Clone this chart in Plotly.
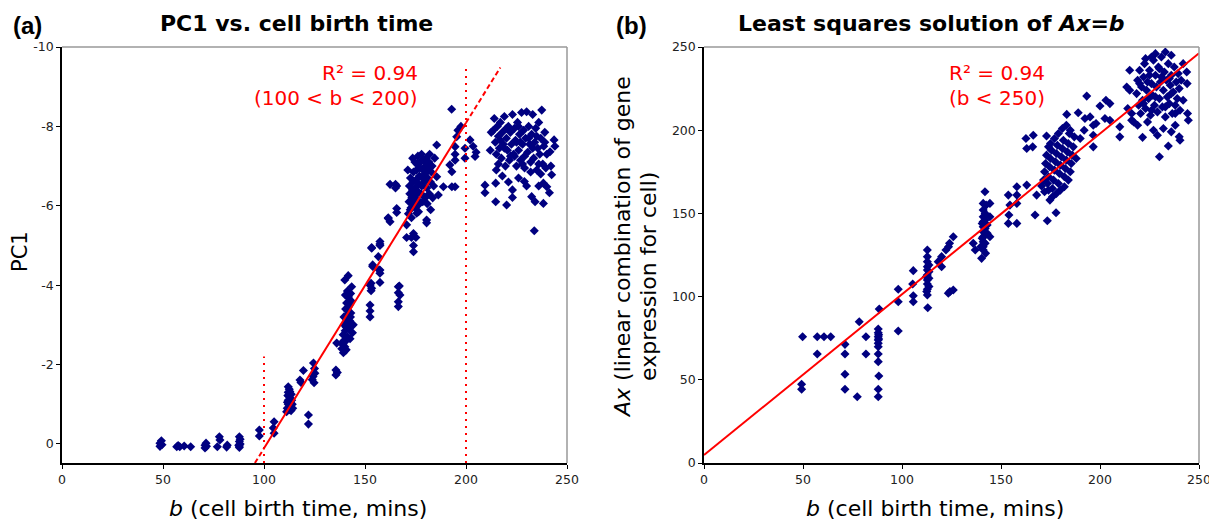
import plotly.graph_objects as go

# ---------------- Panel (a): PC1 vs cell birth time ----------------
a_birth = [
    48.5, 48.5, 49.2, 49.5, 56.8, 57.5, 58.3, 60.5, 63.7,
    70.8, 70.8, 71.3, 71.5, 76.9, 77.9, 78.2, 81.5, 81.8,
    87.8, 87.8, 87.8, 87.8, 88.2, 88.2, 87.5,
    97.7, 97.7, 105, 105, 104.6,
    111.2, 111.5, 112, 112, 112.3, 112, 112, 112.5, 113, 113, 113.2, 113.7, 113.5, 112.8, 111.8, 114.2, 114, 112.6, 113.4, 111.6,
    117.8, 118.3, 119.5, 122, 122, 124.5, 124.8, 125.2, 124.3, 125, 123.9,
    135.6, 135.6, 136, 136.3,
    138.5, 139, 139.5, 139.2, 140, 140.2, 140.5, 140.8, 141, 141.2, 141.5, 141.7, 141.4, 140.6, 142, 142.3, 142.5, 142.8, 142.2, 143,
    143.2, 139.8, 139.6, 140.4, 140.9, 141.8, 140.3, 141.3, 139.3, 140, 141.7, 143.4, 142.9, 143.8, 144.2, 138.8, 140.7, 142.6,
    152.5, 152.5, 152.5, 153, 153, 152.5, 153.3, 153.3, 153.8, 153.8, 153.3, 156.6, 157.4, 157.4, 157.4, 157.4, 157.4, 157.4, 157,
    161.5, 162.4, 161.5, 165.7, 165.7, 162.4, 165.1, 165.1, 165.7,
    166.5, 166.5, 166.5, 166.5, 167.3, 167,
    170.6, 170.6, 173, 175.2, 174, 174, 174, 175.6, 180.5, 180.5,
    171.5, 171.8, 172.2, 172, 172.5, 172.8, 173.2, 173.5, 173.8, 174, 174.3, 174.6, 174.9, 175.2, 175.5, 175.8, 176, 176.3, 176.6,
    176.9, 177.2, 177.5, 177.8, 178.1, 178.4, 178.7, 179, 179.3, 179.6, 180, 180.3, 180.6, 181, 181.3, 181.6, 182, 182.4, 182.8,
    183.2, 183.5, 173, 172.4, 175, 176.5, 178.6, 177, 174.7, 176.2, 178, 179.8, 180.8, 181.8, 184, 185.5, 184.5, 185.5, 186.3,
    182.5, 171.2, 173.6,
    188.8, 192, 193, 193, 194.6, 194.6, 194.6, 194.6, 195.4, 192.9, 199.5, 199.5, 202, 203.5, 205, 204.5, 196, 197.5,
    213.5, 214, 214.5, 215, 215.5, 216, 216.5, 217, 217.5, 218, 218.5, 219, 219.5, 220, 220.5, 221, 221.5, 222, 222.5, 223,
    223.5, 224, 224.5, 225, 225.5, 226, 226.5, 227, 227.5, 228, 228.5, 229, 229.5, 230, 230.5, 231, 231.5, 232, 232.5, 233,
    233.5, 234, 234.5, 235, 235.5, 236, 236.5, 237, 237.5, 238, 238.5, 239, 239.5, 240, 241.6, 243.6, 242.4, 241.3, 240, 238.3,
    238.3, 234.2, 232.5, 233.8, 228.9, 223, 223, 220.1, 214.7, 214.7, 209.4, 209.4, 212, 212.5, 215, 218, 221, 226, 230, 236,
    227, 222, 219, 231, 235, 225, 217, 229, 233, 236, 224, 220, 216, 239, 244, 242, 226, 228, 232, 237,
]
a_pc1 = [
    -0.02, 0.06, -0.08, 0.02, 0.07, 0.04, 0.07, 0.05, 0.07,
    0.03, 0.1, -0.02, 0.06, 0.07, -0.18, -0.1, 0.08, 0.03,
    -0.18, -0.06, 0.05, 0.09, -0.12, 0.0, 0.03,
    -0.35, -0.2, -0.56, -0.27, -0.4,
    -0.81, -0.9, -1.0, -1.1, -1.2, -1.3, -1.44, -1.38, -0.95, -1.05, -1.15, -1.1, -1.25, -1.32, -1.22, -0.9, -1.0, -0.86, -0.84, -1.05,
    -1.61, -1.55, -1.85, -0.73, -0.5, -2.04, -1.54, -1.78, -1.7, -1.9, -1.62,
    -1.86, -1.74, -2.54, -1.8,
    -2.4, -2.5, -2.6, -2.75, -2.45, -2.85, -2.95, -3.05, -3.15, -3.25, -3.35, -3.45, -2.7, -2.6, -2.9, -3.0, -3.1, -3.2, -3.5, -3.3,
    -3.6, -3.0, -3.2, -3.4, -3.55, -3.7, -3.75, -3.85, -2.3, -4.13, -4.24, -3.96, -3.79, -2.8, -3.0, -2.55, -2.37, -2.65,
    -3.2, -3.35, -3.5, -4.05, -3.86, -4.0, -3.92, -4.93, -4.51, -4.47, -4.95, -4.72, -5.1, -5.04, -5.0, -4.38, -4.3, -4.07, -4.38,
    -5.7, -5.6, -5.68, -5.93, -5.83, -6.54, -6.54, -6.45, -6.5,
    -3.96, -3.81, -3.58, -3.46, -3.75, -3.98,
    -5.2, -5.52, -5.2, -5.2, -4.84, -5.0, -5.3, -5.81, -5.64, -5.57,
    -5.8, -6.1, -6.3, -6.5, -6.7, -5.95, -6.2, -6.4, -6.6, -6.85, -6.05, -6.25, -6.45, -6.65, -6.9, -7.05, -6.15, -6.35, -6.55,
    -6.75, -6.95, -7.1, -6.3, -6.5, -6.7, -6.9, -7.15, -6.6, -6.8, -7.0, -7.2, -6.45, -6.7, -6.9, -7.1, -7.3, -6.6, -6.85,
    -7.0, -6.2, -5.7, -5.9, -5.95, -5.85, -6.1, -6.05, -7.1, -7.25, -7.3, -6.2, -6.05, -6.3, -6.5, -7.53, -7.2, -6.73, -6.27,
    -5.9, -6.9, -7.2,
    -6.48, -7.03, -6.86, -6.48, -6.48, -7.15, -7.3, -7.49, -7.74, -8.43, -7.45, -7.2, -7.66, -7.5, -7.35, -7.24, -7.9, -8.0,
    -7.9, -8.2, -7.6, -7.3, -8.0, -7.75, -7.45, -8.1, -7.2, -7.85, -7.55, -8.25, -7.0, -7.7, -7.4, -8.0, -7.15, -7.85, -7.55, -8.3,
    -7.3, -7.95, -7.65, -7.0, -8.1, -7.4, -7.8, -7.15, -8.35, -7.55, -7.9, -6.95, -7.7, -8.37, -7.35, -8.0, -7.55, -6.85, -7.8, -8.3,
    -7.2, -7.6, -7.95, -6.9, -7.45, -8.1, -7.3, -7.7, -8.41, -7.05, -7.5, -7.85, -6.95, -7.3, -7.36, -7.66, -6.78, -6.33, -6.48, -6.57,
    -6.06, -6.1, -6.23, -5.37, -6.61, -6.4, -6.21, -6.02, -6.1, -6.57, -6.52, -6.33, -7.4, -7.85, -6.9, -6.75, -6.6, -6.7, -6.5, -6.5,
    -7.6, -7.25, -7.45, -7.7, -7.75, -7.6, -7.65, -7.25, -7.45, -7.05, -7.25, -7.95, -7.05, -7.6, -7.5, -7.0, -8.0, -7.05, -7.1, -6.8,
]

# fit for 100 < b < 200
a_fit_slope = -0.082
a_fit_intercept = 8.31
a_fit_lo, a_fit_hi = 100, 200
a_ext_lo, a_ext_hi = 95.5, 217
a_vline_x = [100, 200]
a_vline_top = [-2.2, -9.5]
a_r2_lines = ["R² = 0.94", "(100 &lt; b &lt; 200)"]

# ---------------- Panel (b): least squares Ax=b ----------------
b_birth = [
    49.3, 49.3, 49.8, 57.2, 60.6, 64, 57.2,
    71.2, 71.2, 71.2, 71.2, 77.4, 78.4, 81.8, 81.8,
    88, 88, 88, 88, 88, 88, 88, 88, 88.3, 88, 88, 88.5, 88.2, 88.2,
    98.1, 98.1, 98.1, 105.4, 105.7, 105.7, 105.7,
    112.8, 112.8, 112.8, 112.8, 112.8, 112.8, 112.8, 112.8, 112.8, 112.8, 113.6, 113.6, 113.6, 113.6, 112.3, 113, 112.5,
    118.3, 120, 120, 122.2, 124, 125.9, 123.5, 124.2, 125.9, 123.4,
    136, 137,
    141.9, 141, 141, 141, 141, 141, 141, 141, 141, 141, 141, 140.2, 142, 142, 142, 142, 142, 142.5, 140.5, 140.5, 143, 143,
    139.8, 142.2, 144.4, 144.4, 144.4,
    153.7, 154.5, 154, 153.7, 158, 158, 158, 158, 163, 167.2, 168, 170.5, 173.4, 177.8, 174.7,
    162.6, 163, 166.3, 166, 173,
    171.5, 172, 172.5, 173, 173.5, 174, 174.5, 175, 175.5, 176, 176.5, 177, 177.5, 178, 178.5, 179, 179.5, 180, 180.5, 181,
    181.5, 182, 182.5, 183, 183.5, 184, 184.5, 185, 185.5, 186, 186.5, 187, 178, 180, 175, 177, 179, 181, 183, 185,
    174, 176, 184, 188, 182, 172, 174,
    183.2, 189, 192.4, 195, 193.3, 196.6, 196.6, 196.6, 200, 205, 203, 202.5, 205, 210, 210, 215, 215, 216, 216, 190, 192, 198,
    218.5, 219, 219.5, 220, 220.5, 221, 221.5, 222, 222.5, 223, 223.5, 224, 224.5, 225, 225.5, 226, 226.5, 227, 227.5, 228,
    228.5, 229, 229.5, 230, 230.5, 231, 231.5, 232, 232.5, 233, 233.5, 234, 234.5, 235, 235.5, 236, 236.5, 237, 237.5, 238,
    238.5, 239, 239.5, 240, 240.4,
    221.5, 230, 234.5, 240.4, 240, 243.8, 244, 244.6, 244.2, 217, 214, 213.5, 219, 224, 227, 229, 232, 236, 238, 226,
    228, 233, 236, 223, 242, 242, 241, 222, 226, 231, 236, 220, 228, 233, 238, 225, 230, 235,
]
b_ax = [
    47.3, 44.3, 75.9, 75.9, 75.9, 75.9, 65.5,
    71.3, 65.5, 53.3, 44.3, 39.8, 84.9, 75.9, 65.5,
    80.5, 78.3, 75.9, 73.9, 71.9, 69.9, 65.5, 60.9, 52.3, 44.3, 39.8, 92.5, 74.5, 77,
    104.4, 96.9, 79.3, 107.6, 100.5, 96.9, 115.6,
    128, 124, 121, 118, 116, 113, 110, 107.6, 104.4, 101, 119, 115, 111, 106, 112, 93.3, 103,
    121, 124, 118, 128, 132, 136, 130, 103, 104, 102,
    132, 128,
    163, 156, 152, 148, 145, 142, 139, 136, 133, 130, 128, 123, 150, 146, 141, 137, 132, 155, 144, 135, 143, 138,
    130, 126, 156, 148, 136,
    161, 155, 149, 144, 166, 161, 156, 144, 167, 149, 161, 166.5, 145.6, 150.4, 158,
    195, 189, 197, 190, 196.5,
    170, 175, 180, 185, 168, 172, 178, 183, 188, 165, 170, 176, 181, 186, 191, 168, 174, 179, 184, 189,
    194, 172, 177, 182, 187, 192, 198, 175, 180, 185, 190, 196, 162, 164, 192, 195, 198, 201, 203, 200,
    190, 160, 170, 183, 166, 163, 164,
    209.5, 210.5, 207, 208, 220.5, 203, 197, 190, 214.5, 216, 218, 207, 206, 202, 196, 236, 224, 210, 206, 195, 200, 204,
    222, 230, 215, 236, 210, 226, 218, 232, 240, 213, 224, 229, 219, 236, 209, 228, 221, 242, 215, 233,
    226, 211, 238, 219, 229, 244, 214, 224, 235, 208, 230, 220, 240, 216, 227, 233, 210, 223, 238, 215,
    229, 219, 234, 225, 212,
    195.7, 184, 190.5, 194, 196, 235, 228, 206, 210, 205, 213, 226, 203, 205, 200, 197, 201, 199, 203, 244,
    246, 247, 245, 243, 240, 218, 230, 216, 212, 232, 222, 228, 220, 214, 210, 233, 237, 231,
]

b_fit_slope = 0.966
b_fit_intercept = 4.8
b_fit_range = [0, 250]
b_r2_lines = ["R² = 0.94", "(b &lt; 250)"]

# tick labels
a_xticks = [0, 50, 100, 150, 200, 250]
a_yticks = [0, -2, -4, -6, -8, -10]
a_yticktext = ["0", "-2", "-4", "-6", "-8", "-10"]
b_xticks = [0, 50, 100, 150, 200, 250]
b_yticks = [0, 50, 100, 150, 200, 250]

NAVY = "#000080"
RED = "#ff0000"
FONT = "DejaVu Sans"
LABEL_FONT = "Liberation Sans"
W, H = 1217, 521
OFF = 8  # default page body margin


def px(x):
    return (x - OFF) / W


def py(y):
    return 1 - (y - OFF) / H


def fitline(slope, intercept, xs):
    return [slope * x + intercept for x in xs]


fig = go.Figure()

marker = dict(symbol="diamond", size=7, color=NAVY, line=dict(width=0))

# panel a scatter
fig.add_trace(go.Scatter(x=a_birth, y=a_pc1, mode="markers", marker=marker,
                         xaxis="x", yaxis="y", showlegend=False))
# fit line a (solid in range, dashed outside)
xs = [a_fit_lo, a_fit_hi]
fig.add_trace(go.Scatter(x=xs, y=fitline(a_fit_slope, a_fit_intercept, xs), mode="lines",
                         line=dict(color=RED, width=2), xaxis="x", yaxis="y", showlegend=False))
xs = [a_ext_lo, a_fit_lo]
fig.add_trace(go.Scatter(x=xs, y=fitline(a_fit_slope, a_fit_intercept, xs), mode="lines",
                         line=dict(color=RED, width=2, dash="5px,3px"), xaxis="x", yaxis="y", showlegend=False))
xs = [a_fit_hi, a_ext_hi]
fig.add_trace(go.Scatter(x=xs, y=fitline(a_fit_slope, a_fit_intercept, xs), mode="lines",
                         line=dict(color=RED, width=2, dash="5px,3px"), xaxis="x", yaxis="y", showlegend=False))
# dotted vertical lines
for vx, vt in zip(a_vline_x, a_vline_top):
    fig.add_trace(go.Scatter(x=[vx, vx], y=[0.48, vt], mode="lines",
                             line=dict(color=RED, width=2, dash="2px,5px"),
                             xaxis="x", yaxis="y", showlegend=False))

# panel b scatter
fig.add_trace(go.Scatter(x=b_birth, y=b_ax, mode="markers", marker=marker,
                         xaxis="x2", yaxis="y2", showlegend=False))
fig.add_trace(go.Scatter(x=b_fit_range, y=fitline(b_fit_slope, b_fit_intercept, b_fit_range),
                         mode="lines", line=dict(color=RED, width=2),
                         xaxis="x2", yaxis="y2", showlegend=False))

xa_dom = [px(62), px(567)]
xb_dom = [px(704), px(1199)]
y_dom = [py(463), py(47)]

axis_common = dict(showgrid=False, zeroline=False, showline=True, linecolor="black", linewidth=1.5,
                   ticks="outside", ticklen=4, tickwidth=1, tickcolor="black", automargin=False,
                   tickfont=dict(family=FONT, size=12.5, color="#222"))

fig.update_layout(
    width=W, height=H,
    margin=dict(l=0, r=0, t=0, b=0, pad=0),
    paper_bgcolor="white", plot_bgcolor="white",
    xaxis=dict(domain=xa_dom, range=[0, 250], tickvals=a_xticks, anchor="y", **axis_common),
    yaxis=dict(domain=y_dom, range=[0.48, -10], tickvals=a_yticks, ticktext=a_yticktext, anchor="x",
               **axis_common),
    xaxis2=dict(domain=xb_dom, range=[0, 250], tickvals=b_xticks, anchor="y2", **axis_common),
    yaxis2=dict(domain=y_dom, range=[0, 250], tickvals=b_yticks, anchor="x2", **axis_common),
)

# grey top/right spines
for xd in (xa_dom, xb_dom):
    fig.add_shape(type="line", xref="paper", yref="paper", x0=xd[0], x1=xd[1], y0=y_dom[1], y1=y_dom[1],
                  line=dict(color="#999999", width=1.5))
    fig.add_shape(type="line", xref="paper", yref="paper", x0=xd[1], x1=xd[1], y0=y_dom[0], y1=y_dom[1],
                  line=dict(color="#999999", width=1.5))

ann = []


def add_text(text, x, y, size, xanchor="center", color="black", bold=False, angle=0, family=FONT):
    if bold:
        text = "<b>" + text + "</b>"
    ann.append(dict(text=text, x=px(x), y=py(y), xref="paper", yref="paper", showarrow=False,
                    xanchor=xanchor, yanchor="middle", textangle=angle,
                    font=dict(family=family, size=size, color=color)))


add_text("(a)", 11, 25, 24, xanchor="left", bold=True, family=LABEL_FONT)
add_text("PC1 vs. cell birth time", 296, 24, 22, bold=True)
add_text("(b)", 614, 25, 24, xanchor="left", bold=True, family=LABEL_FONT)
add_text("Least squares solution of <i>Ax=b</i>", 931, 24, 22, bold=True)
add_text("<i>b</i> (cell birth time, mins)", 298, 508, 22)
add_text("<i>b</i> (cell birth time, mins)", 935, 508, 22)
add_text("PC1", 20, 252, 21, angle=-90)
add_text("<i>Ax</i> (linear combination of gene", 622, 247, 22, angle=-90)
add_text("expression for cell)", 648, 277, 22, angle=-90)
add_text(a_r2_lines[0], 420, 73, 20, xanchor="right", color=RED)
add_text(a_r2_lines[1], 420, 98, 20, xanchor="right", color=RED)
add_text(b_r2_lines[0], 1047, 73, 20, xanchor="right", color=RED)
add_text(b_r2_lines[1], 1047, 98, 20, xanchor="right", color=RED)

fig.update_layout(annotations=ann)

fig.write_html("out.html")
